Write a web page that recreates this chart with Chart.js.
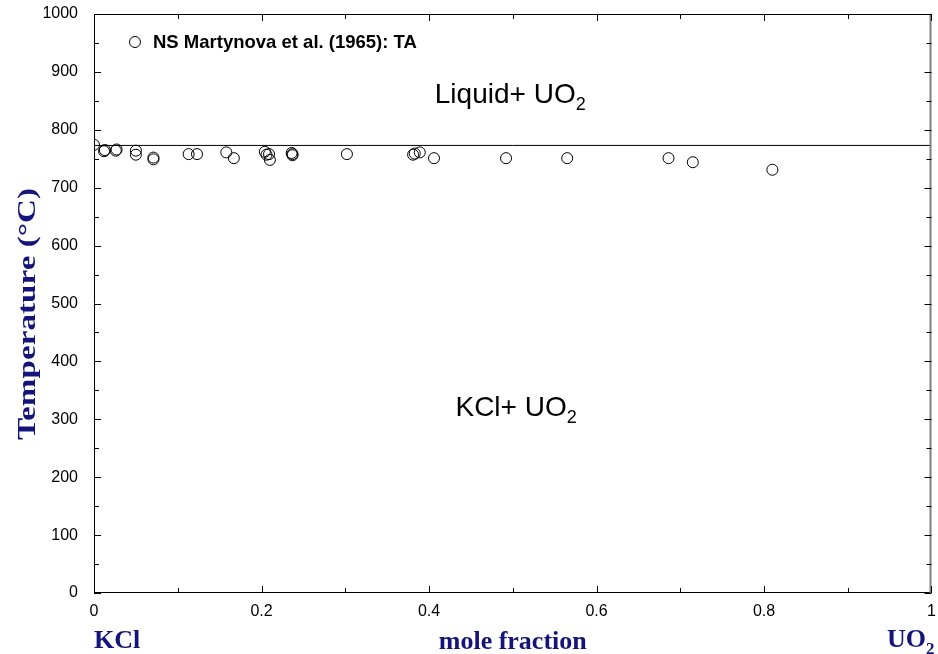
<!DOCTYPE html>
<html>
<head>
<meta charset="utf-8">
<script src="https://cdn.jsdelivr.net/npm/chart.js@4.4.0/dist/chart.umd.min.js"></script>
<style>
  html, body { margin: 0; padding: 0; background: #fff; }
  #wrap { width: 938px; height: 654px; position: relative; }
</style>
</head>
<body>
<div id="wrap"><canvas id="phaseChart"></canvas></div>
<script>
// KCl - UO2 thermal analysis (Martynova et al., 1965)
const moleFraction = [0, 0.012, 0.013, 0.026, 0.027, 0.05, 0.05, 0.071, 0.071, 0.113,
  0.123, 0.158, 0.167, 0.204, 0.206, 0.209, 0.21, 0.236, 0.237, 0.237,
  0.302, 0.381, 0.383, 0.389, 0.406, 0.492, 0.565, 0.686, 0.715, 0.81];
const temperature = [774, 763, 765, 764, 766, 764, 757, 752, 749, 758,
  758, 761, 751, 762, 757, 758, 748, 760, 758, 756,
  758, 757, 759, 761, 751, 751, 751, 751, 744, 731];
const liquidusTemp = 773;
const liquidusX = [0, 1];

const xTicks = [0, 0.2, 0.4, 0.6, 0.8, 1];
const xTickLabels = ["0", "0.2", "0.4", "0.6", "0.8", "1"];
const yTicks = [0, 100, 200, 300, 400, 500, 600, 700, 800, 900, 1000];
const yTickLabels = ["0", "100", "200", "300", "400", "500", "600", "700", "800", "900", "1000"];

const NAVY = "#14147a";

// text with a subscript piece, e.g. UO + 2
function drawSub(ctx, base, sub, x, y, size, font, align) {
  ctx.font = font.replace("{s}", size);
  const wb = ctx.measureText(base).width;
  ctx.font = font.replace("{s}", Math.round(size * 0.65));
  const ws = ctx.measureText(sub).width;
  let left = x;
  if (align === "center") left = x - (wb + ws) / 2;
  if (align === "right") left = x - (wb + ws);
  ctx.textAlign = "left";
  ctx.font = font.replace("{s}", size);
  ctx.fillText(base, left, y);
  ctx.font = font.replace("{s}", Math.round(size * 0.65));
  ctx.fillText(sub, left + wb, y + size * 0.25);
}

const framePlugin = {
  id: "frame",
  afterDraw(chart) {
    const ctx = chart.ctx;
    const a = chart.chartArea;
    const xs = chart.scales.x, ys = chart.scales.y;
    ctx.save();

    // box
    ctx.strokeStyle = "#000";
    ctx.lineWidth = 1;
    ctx.beginPath();
    ctx.moveTo(a.right, a.top + 0.5);
    ctx.lineTo(a.left + 0.5, a.top + 0.5);
    ctx.lineTo(a.left + 0.5, a.bottom - 0.5);
    ctx.lineTo(a.right, a.bottom - 0.5);
    ctx.stroke();
    ctx.strokeStyle = "#808080";
    ctx.lineWidth = 2;
    ctx.beginPath();
    ctx.moveTo(a.right - 1, a.top);
    ctx.lineTo(a.right - 1, a.bottom);
    ctx.stroke();

    // inward ticks on all four sides
    ctx.strokeStyle = "#000";
    ctx.lineWidth = 1;
    ctx.beginPath();
    for (let v = 0; v <= 1.0001; v += 0.1) {
      const px = Math.round(xs.getPixelForValue(v)) + 0.5;
      const major = Math.round(v * 10) % 2 === 0;
      const len = major ? 7 : 5;
      ctx.moveTo(px, a.bottom); ctx.lineTo(px, a.bottom - len);
      ctx.moveTo(px, a.top); ctx.lineTo(px, a.top + len);
    }
    for (let v = 0; v <= 1000; v += 50) {
      const py = Math.round(ys.getPixelForValue(v)) + 0.5;
      const len = v % 100 === 0 ? 7 : 5;
      ctx.moveTo(a.left, py); ctx.lineTo(a.left + len, py);
      ctx.moveTo(a.right, py); ctx.lineTo(a.right - len, py);
    }
    ctx.stroke();

    // phase field labels
    ctx.fillStyle = "#000";
    ctx.textBaseline = "alphabetic";
    const sans = "{s}px 'Liberation Sans', Arial, sans-serif";
    drawSub(ctx, "Liquid+ UO", "2", xs.getPixelForValue(0.497), ys.getPixelForValue(847), 28, sans, "center");
    drawSub(ctx, "KCl+ UO", "2", xs.getPixelForValue(0.504), ys.getPixelForValue(305), 28, sans, "center");

    // legend
    ctx.beginPath();
    ctx.arc(a.left + 41, a.top + 28, 5.5, 0, Math.PI * 2);
    ctx.stroke();
    ctx.font = "bold 18.5px 'Liberation Sans', Arial, sans-serif";
    ctx.textAlign = "left";
    ctx.textBaseline = "middle";
    ctx.fillText("NS Martynova et al. (1965): TA", a.left + 59, a.top + 29);

    // axis titles
    const serif = "bold {s}px 'Liberation Serif', 'Times New Roman', serif";
    ctx.fillStyle = NAVY;
    ctx.textBaseline = "alphabetic";
    ctx.font = serif.replace("{s}", 26);
    ctx.textAlign = "left";
    ctx.fillText("KCl", a.left, 648);
    ctx.textAlign = "center";
    ctx.fillText("mole fraction", (a.left + a.right) / 2, 649);
    drawSub(ctx, "UO", "2", a.right + 3, 647, 26, serif, "right");

    // y title, drawn narrow and tall
    const yTitle = "Temperature (\u00B0C)";
    ctx.font = serif.replace("{s}", 25);
    const tw = ctx.measureText(yTitle).width;
    ctx.translate(35, 314);
    ctx.rotate(-Math.PI / 2);
    ctx.scale(252 / tw, 1);
    ctx.textAlign = "center";
    ctx.fillText(yTitle, 0, 0);
    ctx.restore();
  }
};

new Chart(document.getElementById("phaseChart"), {
  type: "scatter",
  data: {
    datasets: [
      {
        label: "NS Martynova et al. (1965): TA",
        data: moleFraction.map((x, i) => ({ x: x, y: temperature[i] })),
        pointStyle: "circle",
        pointRadius: 5.5,
        pointBorderWidth: 1,
        pointBorderColor: "#000",
        pointBackgroundColor: "rgba(0,0,0,0)",
        showLine: false,
      },
      {
        label: "liquidus",
        data: liquidusX.map((x) => ({ x: x, y: liquidusTemp })),
        showLine: true,
        borderColor: "#000",
        borderWidth: 1,
        pointRadius: 0,
      },
    ],
  },
  options: {
    responsive: true,
    maintainAspectRatio: false,
    animation: false,
    layout: { padding: { top: 14, right: 6, left: 0, bottom: 0 } },
    plugins: { legend: { display: false }, tooltip: { enabled: false } },
    scales: {
      x: {
        type: "linear",
        min: 0,
        max: 1,
        afterBuildTicks: (s) => { s.ticks = xTicks.map((v) => ({ value: v })); },
        afterFit: (s) => {
          s.height = 61;
          s.paddingLeft = 0;
          s.paddingRight = 0;
        },
        ticks: {
          color: "#000",
          padding: 9,
          font: { family: "'Liberation Sans', Arial, sans-serif", size: 16 },
          maxRotation: 0,
          callback: (v, i) => xTickLabels[i],
        },
        grid: { display: false, drawTicks: false },
        border: { display: false },
      },
      y: {
        min: 0,
        max: 1000,
        afterBuildTicks: (s) => { s.ticks = yTicks.map((v) => ({ value: v })); },
        afterFit: (s) => {
          s.width = 94;
          s.paddingTop = 0;
          s.paddingBottom = 0;
        },
        ticks: {
          color: "#000",
          padding: 16,
          font: { family: "'Liberation Sans', Arial, sans-serif", size: 16 },
          callback: (v, i) => yTickLabels[i],
        },
        grid: { display: false, drawTicks: false },
        border: { display: false },
      },
    },
  },
  plugins: [framePlugin],
});
</script>
</body>
</html>
